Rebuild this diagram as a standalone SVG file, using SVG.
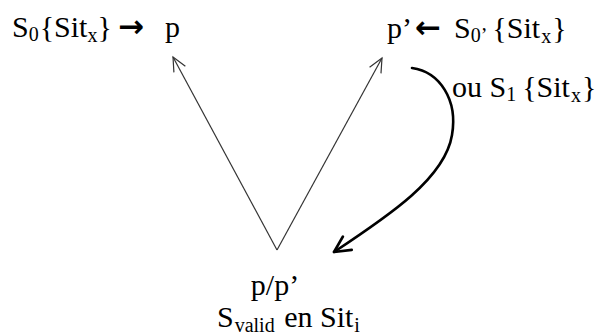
<svg xmlns="http://www.w3.org/2000/svg" width="596" height="336" viewBox="0 0 596 336">
<style>
.t{font-family:"Liberation Serif","Times New Roman",serif;font-size:30px;fill:#000}
.sub{font-size:20px}
.arr{font-family:"DejaVu Sans",sans-serif;font-size:31px;font-weight:bold}
.thin{fill:none;stroke:#333;stroke-width:1.2}
.thick{fill:none;stroke:#000;stroke-width:2.6;stroke-linecap:round}
</style>
<defs>
<marker id="open" viewBox="-16 -8 18 16" markerWidth="18" markerHeight="16" refX="0" refY="0" orient="auto" markerUnits="userSpaceOnUse">
<path d="M-14,-6.5 L0,0 L-14,6.5" fill="none" stroke="#333" stroke-width="1.2"/>
</marker>
<marker id="openB" viewBox="-20 -10 24 20" markerWidth="24" markerHeight="20" refX="0" refY="0" orient="auto" markerUnits="userSpaceOnUse">
<path d="M-16,-8 L0,0 L-16,8" fill="none" stroke="#000" stroke-width="2.6" stroke-linecap="round" stroke-linejoin="round"/>
</marker>
</defs>
<g id="connectors">
<line class="thin" x1="277" y1="250" x2="173" y2="57" marker-end="url(#open)"/>
<line class="thin" x1="277" y1="250" x2="382" y2="58" marker-end="url(#open)"/>
<path class="thick" d="M412,68 C440,72 458,100 452,135 C445,178 390,215 334,252" marker-end="url(#openB)"/>
</g>
<g id="node-s0">
<text class="t" x="12" y="37">S<tspan class="sub" dy="4">0</tspan><tspan dy="-4" dx="1">{Sit</tspan><tspan class="sub" dy="5">x</tspan><tspan dy="-5">}</tspan><tspan class="arr" x="118">→</tspan><tspan x="165">p</tspan></text>
</g>
<g id="node-s0p">
<text class="t" x="387" y="38">p’<tspan class="arr" x="415">←</tspan><tspan x="454">S</tspan><tspan class="sub" dy="4">0’</tspan><tspan dy="-4" dx="5">{Sit</tspan><tspan class="sub" dy="5" dx="1">x</tspan><tspan dy="-5" dx="1">}</tspan></text>
<text class="t" x="452" y="97">ou S<tspan class="sub" dy="4">1</tspan><tspan dy="-4" dx="6">{Sit</tspan><tspan class="sub" dy="5" dx="1">x</tspan><tspan dy="-5" dx="1">}</tspan></text>
</g>
<g id="node-valid">
<text class="t" x="275" y="295" text-anchor="middle">p/p’</text>
<text class="t" x="217" y="327">S<tspan class="sub" dy="5" dx="1">valid</tspan><tspan dy="-5" dx="2"> en Sit</tspan><tspan class="sub" dy="5" dx="1">i</tspan></text>
</g>
</svg>
